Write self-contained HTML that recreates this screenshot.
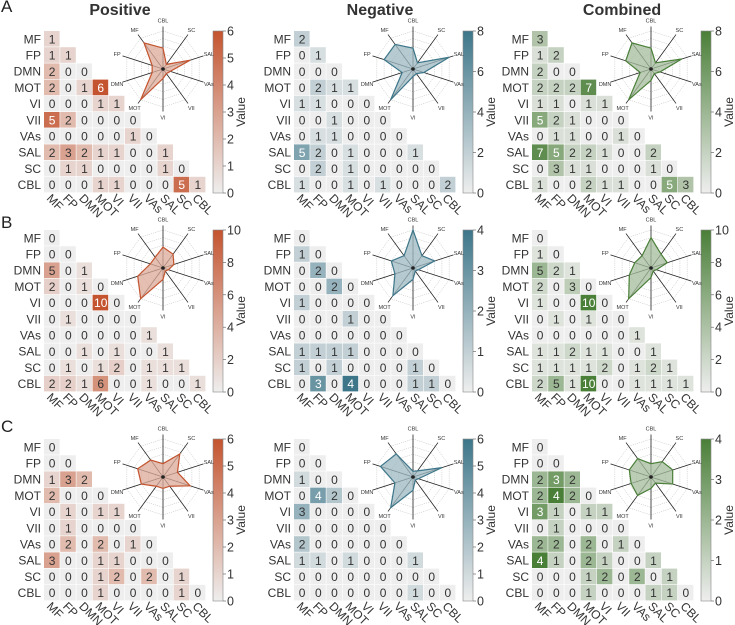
<!DOCTYPE html>
<html><head><meta charset="utf-8"><style>
html,body{margin:0;padding:0;background:#fff;}
svg{display:block;font-family:"Liberation Sans","DejaVu Sans",sans-serif;}
</style></head><body>
<svg id="s" width="735" height="625" viewBox="0 0 735 625" xmlns="http://www.w3.org/2000/svg"></svg>
<script>
const S=document.getElementById('s');let h='';
const L=['MF','FP','DMN','MOT','VI','VII','VAs','SAL','SC','CBL'];
const RL=['CBL','SC','SAL','VAs','VII','VI','MOT','DMN','FP','MF'];
const cols=[[196,84,47],[61,118,137],[74,127,56]];
const X0=[44,294,532],Y0=[31,230,439],P=16.2;
const M={
'00':`1|1 1|2 0 0|2 0 1 6|0 0 0 1 1|5 2 0 0 0 0|0 0 0 0 0 1 0|2 3 2 1 1 0 0 1|0 1 1 0 0 0 0 1 0|0 0 0 1 1 0 0 0 5 1`,
'01':`2|0 1|0 0 0|0 2 1 1|1 1 0 0 0|0 0 1 0 0 0|0 1 1 0 0 0 0|5 2 0 1 0 0 0 1|0 2 0 1 0 0 0 0 0|1 0 0 1 0 1 0 0 0 2`,
'02':`3|1 2|2 0 0|2 2 2 7|1 1 0 1 1|5 2 1 0 0 0|0 1 1 0 0 1 0|7 5 2 2 1 0 0 2|0 3 1 1 0 0 0 1 0|1 0 0 2 1 1 0 0 5 3`,
'10':`0|0 0|5 0 1|2 0 1 0|0 0 0 10 0|0 1 0 0 0 0|0 0 0 0 0 0 1|0 0 1 0 1 0 0 1|0 1 0 1 2 0 1 1 1|2 2 1 6 0 0 1 0 0 1`,
'11':`0|1 0|0 2 0|0 0 2 0|1 0 0 0 0|0 0 0 1 0 0|0 0 0 0 0 0 0|1 1 1 1 0 0 0 0|1 0 1 0 0 0 0 1 0|0 3 0 4 0 0 0 1 1 0`,
'12':`0|1 0|5 2 1|2 0 3 0|1 0 0 10 0|0 1 0 1 0 0|0 0 0 0 0 0 1|1 1 2 1 1 0 0 1|1 1 1 1 2 0 1 2 1|2 5 1 10 0 0 1 1 1 1`,
'20':`0|0 0|1 3 2|2 0 0 0|0 1 0 1 1|0 1 0 0 0 0|0 2 0 2 0 1 0|3 0 0 1 1 0 0 0|0 0 0 1 2 0 2 0 1|0 0 0 1 0 0 0 0 1 0`,
'21':`0|0 0|1 0 0|0 4 2 0|3 0 0 0 0|0 0 0 0 0 0|2 0 0 0 0 0 0|1 1 0 1 0 0 0 1|0 0 0 0 0 0 0 0 0|0 0 0 0 0 0 0 1 0 0`,
'22':`0|0 0|2 3 2|2 4 2 0|3 1 0 1 1|0 1 0 0 0 0|2 2 0 2 0 1 0|4 1 0 2 1 0 0 1|0 0 0 1 2 0 2 0 1|0 0 0 1 0 0 0 1 1 0`};
const MX={'00':6,'01':8,'02':8,'10':10,'11':4,'12':10,'20':6,'21':6,'22':4};
const TK={'00':1,'01':2,'02':2,'10':2,'11':1,'12':2,'20':1,'21':1,'22':1};
const RD={
'00':[.55,.15,.75,.2,.15,.25,1,.3,.3,.85],
'01':[.55,.2,1,.3,.15,.2,1,.3,.8,.8],
'02':[.55,.2,.85,.25,.15,.3,1,.3,.7,.85],
'10':[.55,.45,.3,.15,.1,.3,1,.7,.35,.35],
'11':[1,.4,.6,.15,.1,.3,.9,.5,.6,.4],
'12':[.8,.45,.45,.15,.1,.25,1,.6,.45,.4],
'20':[.35,.75,.4,.75,.3,.3,.3,.6,.7,.55],
'21':[.15,.2,.8,.15,.1,.35,1,.5,.9,.75],
'22':[.35,.5,.6,.6,.2,.3,.6,.55,.6,.6]};
const base=[238,238,238];
function mix(c,t){return 'rgb('+c.map((v,i)=>Math.round(base[i]+(v-base[i])*t)).join(',')+')';}
// titles
[['Positive',120],['Negative',380],['Combined',622]].forEach(([t,x])=>h+=`<text x="${x}" y="15" font-size="16" font-weight="bold" fill="#333" text-anchor="middle">${t}</text>`);
[['A',12],['B',228],['C',432]].forEach(([t,y])=>h+=`<text x="1" y="${y}" font-size="17" fill="#222">${t}</text>`);
for(let r=0;r<3;r++)for(let c=0;c<3;c++){
 const k=''+r+c,x0=X0[c],y0=Y0[r],col=cols[c],mx=MX[k];
 const rows=M[k].split('|').map(s=>s.trim().split(' ').map(Number));
 rows.forEach((rw,i)=>{
  h+=`<text x="${x0-3}" y="${y0+i*P+P/2+4.2}" font-size="12" fill="#333" text-anchor="end">${L[i]}</text>`;
  rw.forEach((v,j)=>{const t=v/mx;const x=x0+j*P,y=y0+i*P;
   h+=`<rect x="${x}" y="${y}" width="${P-0.6}" height="${P-0.6}" fill="${mix(col,t)}"/>`;
   h+=`<text x="${x+P/2}" y="${y+P/2+4.3}" font-size="12" fill="${t>0.6?'#fff':'#333'}" text-anchor="middle">${v}</text>`;});
 });
 L.forEach((l,j)=>{const x=x0+j*P+2,y=y0+10*P+6;
  h+=`<text x="${x}" y="${y}" font-size="12" fill="#333" transform="rotate(45 ${x} ${y})">${l}</text>`;});
 // colorbar
 const cx=x0+169,cy=y0,ch=162,gid='g'+k;
 h+=`<defs><linearGradient id="${gid}" x1="0" y1="1" x2="0" y2="0"><stop offset="0" stop-color="${mix(col,0)}"/><stop offset="1" stop-color="${mix(col,1)}"/></linearGradient></defs>`;
 h+=`<rect x="${cx}" y="${cy}" width="10" height="${ch}" fill="url(#${gid})" stroke="#888" stroke-width="0.6"/>`;
 for(let v=0;v<=mx;v+=TK[k]){const y=cy+ch-ch*v/mx;
  h+=`<line x1="${cx+10}" y1="${y}" x2="${cx+13}" y2="${y}" stroke="#555" stroke-width="0.6"/><text x="${cx+14}" y="${y+4.5}" font-size="12.5" fill="#333">${v}</text>`;}
 h+=`<text x="${cx+32}" y="${cy+ch/2}" font-size="12" fill="#333" text-anchor="middle" transform="rotate(-90 ${cx+32} ${cy+ch/2})">Value</text>`;
 // radar
 const rx=x0+119,ry=y0+38,R=38;
 const pt=(i,f)=>{const a=-Math.PI/2+i*Math.PI/5;return [rx+Math.cos(a)*R*f,ry+Math.sin(a)*R*f];};
 for(let g=1;g<=5;g++){h+=`<polygon points="${RL.map((_,i)=>pt(i,g/5).join(',')).join(' ')}" fill="none" stroke="#bbb" stroke-width="0.5" stroke-dasharray="1.2 1"/>`;}
 RL.forEach((l,i)=>{const [ex,ey]=pt(i,1.12),[bx,by]=pt(i,-0.02);
  h+=`<line x1="${rx}" y1="${ry}" x2="${ex}" y2="${ey}" stroke="#222" stroke-width="0.8"/>`;
  const [lx,ly]=pt(i,1.27);h+=`<text x="${lx}" y="${ly+2}" font-size="5.5" fill="#333" text-anchor="middle">${l}</text>`;});
 h+=`<polygon points="${RD[k].map((f,i)=>pt(i,f).join(',')).join(' ')}" fill="${mix(col,0.45)}" fill-opacity="0.75" stroke="rgb(${col})" stroke-width="1.2"/>`;
 h+=`<circle cx="${rx}" cy="${ry}" r="1.8" fill="#222"/>`;
}
S.innerHTML=h;
</script>
</body></html>
